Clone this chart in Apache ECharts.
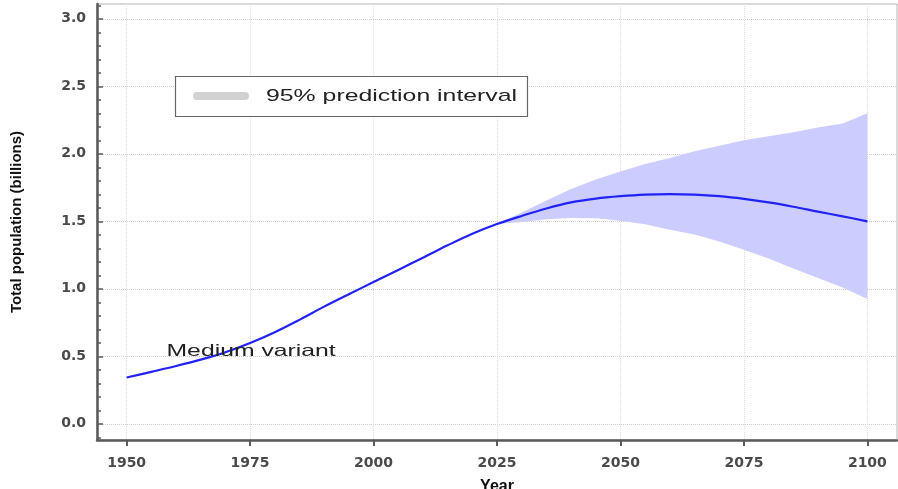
<!DOCTYPE html>
<html><head><meta charset="utf-8">
<script src="https://cdn.jsdelivr.net/npm/echarts@6/dist/echarts.min.js"></script>
<style>html,body{margin:0;padding:0;background:#fff}#c{width:898px;height:489px}</style>
</head><body><div id="c"></div>
<script>
const years = [1950,1955,1960,1965,1970,1975,1980,1985,1990,1995,2000,2005,2010,2015,2020,2025,2030,2035,2040,2045,2050,2055,2060,2065,2070,2075,2080,2085,2090,2095,2100];
const medianVariant = [0.343,0.385,0.428,0.475,0.530,0.598,0.678,0.770,0.868,0.960,1.050,1.140,1.230,1.322,1.408,1.480,1.540,1.595,1.640,1.668,1.686,1.698,1.702,1.698,1.686,1.666,1.640,1.608,1.572,1.537,1.500];
const bandYears = [2025,2030,2035,2040,2045,2050,2055,2060,2065,2070,2075,2080,2085,2090,2095,2100];
const upper95 = [1.480,1.565,1.655,1.740,1.810,1.870,1.925,1.970,2.020,2.060,2.100,2.130,2.160,2.195,2.225,2.300];
const lower95 = [1.480,1.495,1.515,1.525,1.522,1.505,1.478,1.437,1.403,1.350,1.290,1.225,1.150,1.080,1.010,0.925];
const xTickYears = [1950,1975,2000,2025,2050,2075,2100];
const yTickValues = [0,0.5,1,1.5,2,2.5,3];
const yMinorTickValues = [-0.1,0,0.1,0.2,0.3,0.4,0.5,0.6,0.7,0.8,0.9,1,1.1,1.2,1.3,1.4,1.5,1.6,1.7,1.8,1.9,2,2.1,2.2,2.3,2.4,2.5,2.6,2.7,2.8,2.9,3,3.1];
const yAxisTitle = 'Total population (billions)';
const xAxisTitle = 'Year';
const legendLabel = '95% prediction interval';
const lineLabel = 'Medium variant';

const chart = echarts.init(document.getElementById('c'), null, {renderer:'canvas'});
const tickFont = {fontFamily:'DejaVu Sans', fontWeight:'bold', fontSize:14, color:'#4a4a4a'};
const axisLineStyle = {color:'#5a5a5a', width:2.5};

chart.setOption({
  animation:false,
  backgroundColor:'#fff',
  grid:{left:97, right:1, top:4, bottom:49, show:true, borderColor:'#b5b5b5', borderWidth:1, containLabel:false, outerBoundsMode:'none'},
  xAxis:{
    type:'value', min:1944, max:2106,
    name:xAxisTitle, nameLocation:'middle', nameGap:39,
    nameTextStyle:{fontFamily:'Liberation Sans', fontWeight:'bold', fontSize:16, color:'#111'},
    axisLine:{show:true, onZero:false, lineStyle:axisLineStyle},
    axisTick:{show:true, inside:false, length:6, customValues:xTickYears, lineStyle:{color:'#5a5a5a', width:2}},
    axisLabel:Object.assign({customValues:xTickYears, margin:16, formatter:v=>String(v)}, tickFont),
    splitLine:{show:true, lineStyle:{color:'#dcdcdc', type:'dotted', width:1}}
  },
  yAxis:[{
    type:'value', min:-0.12, max:3.11,
    name:yAxisTitle, nameLocation:'middle', nameGap:73, nameRotate:90,
    nameTextStyle:{fontFamily:'Liberation Sans', fontWeight:'bold', fontSize:15, color:'#111'},
    axisLine:{show:true, onZero:false, lineStyle:axisLineStyle},
    axisTick:{show:true, inside:true, length:6, customValues:yTickValues, lineStyle:{color:'#5a5a5a', width:1.5}},
    axisLabel:Object.assign({customValues:yTickValues, margin:11, formatter:v=>Number(v).toFixed(1)}, tickFont),
    splitLine:{show:true, lineStyle:{color:'#cfcfcf', type:'dotted', width:1}}
  },{
    type:'value', min:-0.12, max:3.11, position:'left',
    axisLine:{show:false},
    axisTick:{show:true, inside:true, length:4, customValues:yMinorTickValues, lineStyle:{color:'#5a5a5a', width:1.5}},
    axisLabel:{show:false}, splitLine:{show:false}
  }],
  series:[{
    type:'custom', name:legendLabel, coordinateSystem:'cartesian2d', z:1,
    data:[[bandYears[0], upper95[0]]],
    renderItem:function(params, api){
      const pts = [];
      for (let i=0;i<bandYears.length;i++) pts.push(api.coord([bandYears[i], upper95[i]]));
      for (let i=bandYears.length-1;i>=0;i--) pts.push(api.coord([bandYears[i], lower95[i]]));
      return {type:'polygon', shape:{points:pts}, style:{fill:'#ccccff', stroke:null}};
    },
    silent:true
  },{
    type:'line', name:lineLabel, z:3,
    data:years.map((y,i)=>[y, medianVariant[i]]),
    smooth:0.35, showSymbol:false,
    lineStyle:{color:'#2222f5', width:2.2},
    silent:true
  }],
  graphic:[
    {type:'rect', shape:{x:175.5, y:76.5, width:352, height:40}, style:{fill:'#fff', stroke:'#666', lineWidth:1.2}, z:10},
    {type:'line', shape:{x1:197, y1:96, x2:245, y2:96}, style:{stroke:'#d2d2d2', lineWidth:8, lineCap:'round'}, z:11},
    {type:'text', x:266, y:96.5, scaleX:1.46, style:{text:legendLabel, x:0, y:0, verticalAlign:'middle', fontFamily:'Liberation Sans', fontSize:17, fill:'#222'}, z:11},
    {type:'text', x:166.5, y:351.5, scaleX:1.5, style:{text:lineLabel, x:0, y:0, verticalAlign:'middle', fontFamily:'Liberation Sans', fontSize:16.5, fill:'#222'}, z:11}
  ]
});
</script></body></html>
